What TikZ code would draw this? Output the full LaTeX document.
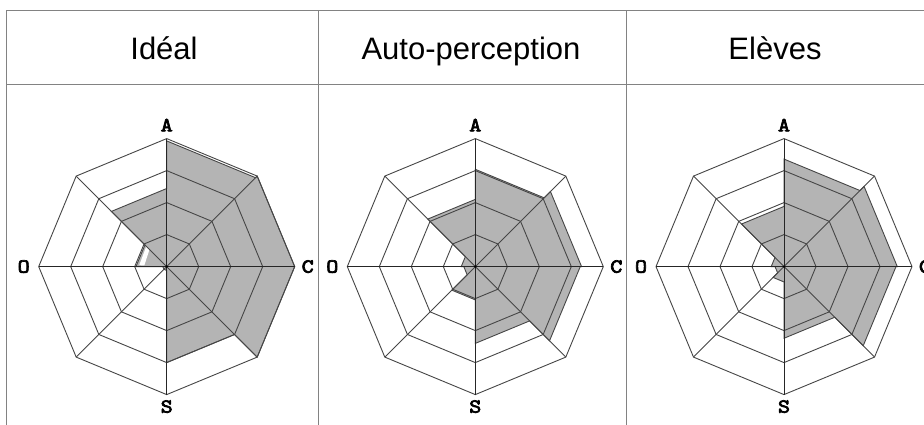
\documentclass[tikz,border=0pt]{standalone}
\usepackage{fontspec}
\setmainfont{Liberation Sans}
\newfontfamily\labelfont[FakeBold=3.5,FakeStretch=1.15]{lmmono10-regular.otf}
\usetikzlibrary{calc}
\definecolor{fillgray}{RGB}{180,180,180}
\definecolor{gridgray}{RGB}{70,70,70}
\definecolor{tablegray}{RGB}{130,130,130}
\def\R{128}
\newcommand\radarchart[9]{%
  \begin{scope}[shift={(c#1)}]
    \filldraw[datafill] (90:#2*\R) -- (45:#2*\R) -- (45:#3*\R) -- (0:#3*\R) -- (0:#4*\R) -- (-45:#4*\R) -- (-45:#5*\R) -- (-90:#5*\R) -- (-90:#6*\R) -- (-135:#6*\R) -- (-135:#7*\R) -- (180:#7*\R) -- (180:#8*\R) -- (135:#8*\R) -- (135:#9*\R) -- (90:#9*\R) -- cycle;
  \end{scope}}
\newcommand\radargrid[1]{%
  \begin{scope}[shift={(c#1)}]
    \foreach \k in {0.25,0.5,0.75,1}
      \draw[ringline] (90:\k*\R) -- (45:\k*\R) -- (0:\k*\R) -- (-45:\k*\R) -- (-90:\k*\R) -- (-135:\k*\R) -- (180:\k*\R) -- (135:\k*\R) -- cycle;
    \foreach \a in {45,135,225,315}
      \draw[spokeline] (0,0) -- (\a:\R);
    \draw[axisline] (180:\R) -- (0:\R);
    \draw[axisline] (90:\R) -- (-90:\R);
    \fill[black] (0,0) circle (1.3);
    \node[axislabel] (A#1) at (90:141.5) {A};
    \node[axislabel] (C#1) at (0:141) {C};
    \node[axislabel] (S#1) at (-90:140) {S};
    \node[axislabel] (O#1) at (180:143) {O};
  \end{scope}}
\begin{document}
\begin{tikzpicture}[x=1pt,y=1pt,
  tableline/.style={draw=tablegray,line width=0.9pt},
  ringline/.style={draw=gridgray,line width=0.9pt,line join=miter},
  spokeline/.style={draw=gridgray,line width=0.9pt},
  axisline/.style={draw=black!85,line width=0.95pt},
  datafill/.style={fill=fillgray,draw=gridgray,line width=0.9pt,line join=miter},
  header/.style={font=\fontsize{31}{31}\selectfont,anchor=base,inner sep=0pt},
  axislabel/.style={font=\fontsize{20}{20}\selectfont\labelfont,inner sep=0pt}]
\useasboundingbox (0,0) rectangle (924,425);
\fill[white] (0,0) rectangle (924,425);
% table
\draw[tableline] (6.5,0) -- (6.5,415) -- (924,415);
\draw[tableline] (6.5,341) -- (924,341);
\draw[tableline] (318,0) -- (318,415);
\draw[tableline] (626,0) -- (626,415);
\node[header] (h1) at (164,365) {Idéal};
\node[header] (h2) at (471,365) {Auto-perception};
\node[header] (h3) at (775,365) {Elèves};
% centres
\coordinate (c1) at (166.7,158.4);
\coordinate (c2) at (475.3,158.4);
\coordinate (c3) at (784,158.4);
% data
\radarchart{1}{0.982}{1}{1}{0.75}{0.03}{0.03}{0.24}{0.61}
\begin{scope}[shift={(c1)}]
  \fill[white] (135:0.19*\R) -- (135:0.225*\R) -- (177:0.215*\R) -- (177:0.175*\R) -- cycle;
\end{scope}
\radarchart{2}{0.76}{0.83}{0.82}{0.6}{0.26}{0.09}{0.11}{0.525}
\radarchart{3}{0.84}{0.885}{0.875}{0.56}{0.12}{0.07}{0.1}{0.47}
\radargrid{1}
\radargrid{2}
\radargrid{3}
\end{tikzpicture}
\end{document}
